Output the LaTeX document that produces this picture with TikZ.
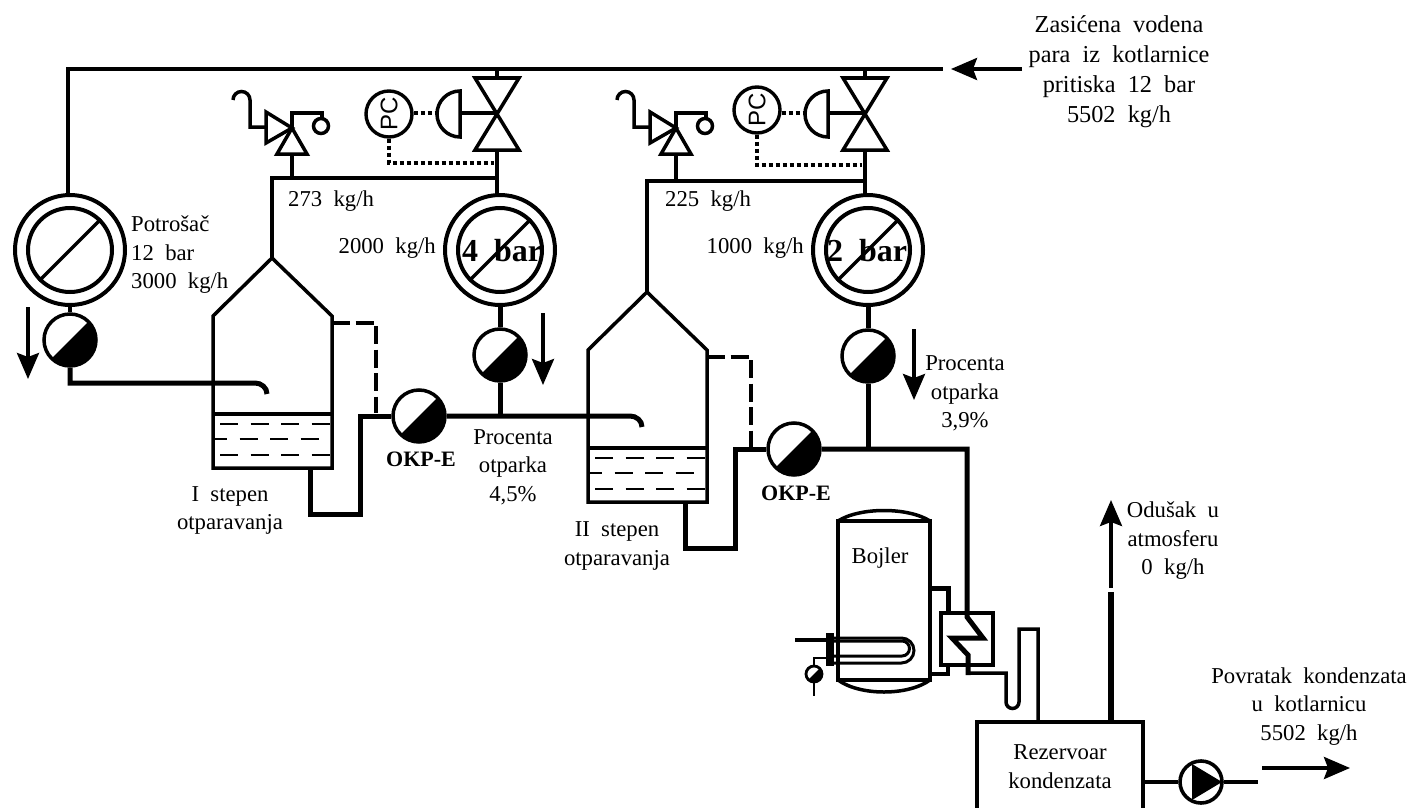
\documentclass[tikz,border=0pt]{standalone}
\usepackage{fontspec}
\setmainfont[WordSpace=2]{Liberation Serif}
\newfontfamily\pcfont{Liberation Sans}
\usetikzlibrary{arrows.meta,positioning}

\begin{document}
\begin{tikzpicture}[
    x=1pt,
    y=-1pt,
    lbl/.style={
        align=center,
        inner sep=0pt,
        font=\fontsize{22.7}{28.5}\selectfont
    },
    biglbl/.style={
        align=center,
        inner sep=0pt,
        font=\fontsize{24.3}{30}\selectfont
    },
    okplbl/.style={
        inner sep=0pt,
        font=\fontsize{22}{26}\selectfont\bfseries
    },
    barlbl/.style={
        inner sep=0pt,
        font=\fontsize{32}{36}\selectfont\bfseries
    },
    gauge/.style={
        circle,
        draw=black,
        line width=4pt,
        inner sep=0pt,
        minimum size=110pt
    },
    gaugein/.style={
        circle,
        draw=black,
        line width=4pt,
        inner sep=0pt,
        minimum size=84pt
    },
    trap/.style={
        circle,
        draw=black,
        line width=3.5pt,
        inner sep=0pt,
        minimum size=52pt,
        path picture={\fill[black] (path picture bounding box.north east)
            -- (path picture bounding box.south west)
            -- (path picture bounding box.south east) -- cycle;}
    },
    pcbox/.style={
        circle,
        draw=black,
        line width=3.4pt,
        inner sep=0pt,
        minimum size=46pt,
        rotate=90,
        font=\fontsize{24}{26}\selectfont\pcfont
    },
    pipe/.style={line width=3.5pt},
    thickpipe/.style={line width=5pt},
    mainpipe/.style={line width=4pt},
    vessel/.style={line width=3.5pt},
    liquid/.style={line width=2pt, dash pattern=on 18pt off 12.5pt},
    condline/.style={line width=4pt, dash pattern=on 18pt off 5.5pt},
    signal/.style={line width=4pt, dash pattern=on 4pt off 3pt},
    arrow/.style={-{Stealth[length=26pt,width=22pt,inset=4pt]}, line width=3.6pt}
]
\useasboundingbox (0,0) rectangle (1408,808);

% Gauges and flash traps
\node[gauge] (gauge1) at (70,250) {};
\node[gaugein] (inner1) at (70,250) {};
\node[gauge] (gauge2) at (500,250) {};
\node[gaugein] (inner2) at (500,250) {};
\node[gauge] (gauge3) at (868,250) {};
\node[gaugein] (inner3) at (868,250) {};
\foreach \i in {1,2,3} {
    \draw[pipe] (inner\i.225) -- (inner\i.45);
}
\node[barlbl, anchor=base] (bar1) at (502,261) {4 bar};
\node[barlbl, anchor=base] (bar2) at (867,261) {2 bar};

\node[trap] (trap1) at (70,340) {};
\node[trap] (trap2) at (500,355) {};
\node[trap] (trap3) at (868,356) {};
\node[trap] (okp1) at (419,416) {};
\node[trap] (okp2) at (794,449) {};
\node[okplbl, anchor=base] (okplbl1) at (421,466) {OKP-E};
\node[okplbl, anchor=base] (okplbl2) at (796,500) {OKP-E};

\draw[pipe] (gauge1.south) -- (trap1.north);
\draw[thickpipe] (gauge2.south) -- (trap2.north);
\draw[thickpipe] (gauge3.south) -- (trap3.north);

% Flash vessels: liquid, drain and equalising line
\foreach \sx/\sy [count=\i] in {0/0,375/34} {
    \begin{scope}[shift={(\sx,\sy)}]
        \draw[vessel] (272,258) -- (332,316) -- (332,468) -- (213,468) -- (213,316) -- cycle;
        \draw[vessel] (213,414) -- (332,414);
        \draw[liquid] (220,424) -- (331,424);
        \draw[liquid, dash phase=4pt] (213,439) -- (331,439);
        \draw[liquid] (220,455) -- (331,455);
        \draw[thickpipe] (310,468) -- (310,514) -- (360,514) |- (okp\i.west);
        \draw[condline] (332,323) -| (376,413);
    \end{scope}
}

% Condensate lines into vessels
\draw[thickpipe] (trap1.south) |- (255,383) to[out=0,in=90] (267,394);
\draw[thickpipe] (okp1.east) -- (630,416) to[out=0,in=90] (642,427);
\draw[thickpipe] (trap2.south) -- (trap2.south |- okp1.east);
\draw[thickpipe] (trap3.south) -- (trap3.south |- okp2.east);

% Main steam header
\coordinate (headl) at (68,69);
\coordinate (headr) at (943,69);
\draw[mainpipe] (gauge1.north -| headl) -- (headl) -- (headr);
\coordinate (steamin) at (1022,69);
\coordinate (steamout) at (951,69);
\draw[arrow] (steamin) -- (steamout);

% Pressure reducing stations
\foreach \i/\vx/\py/\pcx/\pcy/\dy/\ax in {1/497/178/389/114/163/460,2/865/181/757/110/165/828} {
    \coordinate (valve\i) at (\vx,113);
    \coordinate (tee\i) at (\vx,\py);
    \node[pcbox] (pc\i) at (\pcx,\pcy) {PC};
    \draw[pipe] (\vx-22,78) -- (\vx+22,78) -- (\vx-22,150) -- (\vx+22,150) -- cycle;
    \draw[pipe] (\vx,69) -- (\vx,78);
    \draw[pipe] (\ax,91) arc[start angle=90,end angle=270,radius=23pt] -- cycle;
    \draw[pipe] (\ax,113) -- (valve\i);
    \draw[signal] (pc\i.south |- valve\i) -- (\ax-23,113);
    \draw[signal] (pc\i.west) -- (\pcx,\dy) -- (\vx-3,\dy);
}
\draw[mainpipe] (497,150) -- (497,193);
\draw[mainpipe] (865,150) -- (865,193);

% Vapour lines from vessels
\coordinate (apex1) at (272,258);
\coordinate (apex2) at (647,292);
\draw[pipe] (apex1) |- (tee1);
\draw[pipe] (apex2) |- (tee2);

% Safety valves
\foreach \sx in {292,676} {
    \begin{scope}[shift={(\sx,0)}]
        \draw[pipe] (-26,112) -- (0,128) -- (-26,143) -- cycle;
        \draw[pipe] (0,128) -- (-15,154) -- (15,154) -- cycle;
        \draw[pipe] (-26,127) -- (-42,127) -- (-42,100) arc[start angle=0,end angle=180,radius=8.5pt];
        \draw[pipe] (0,128) -- (0,113) -- (30,113) -- (30,118);
        \draw[line width=3.5pt] (29,126) circle[radius=7.5pt];
    \end{scope}
}
\draw[mainpipe] (292,154) -- (292,178);
\draw[mainpipe] (676,154) -- (676,181);

% Boiler
\node[lbl, anchor=base] (bojler) at (880,563) {Bojler};
\draw[vessel] (838,521) rectangle (930,680);
\draw[vessel] (838,521) .. controls (860,507) and (908,507) .. (930,521);
\draw[vessel] (838,680) .. controls (860,696) and (908,696) .. (930,680);
\draw[line width=3pt] (833,638) -- (901.5,638) arc[start angle=90,end angle=-90,radius=12.5pt] -- (833,663);
\draw[line width=3pt] (833,641) -- (902,641) arc[start angle=90,end angle=-90,radius=7.5pt] -- (833,656);
\node[fill=black, inner sep=0pt, minimum width=8pt, minimum height=33pt] (flange) at (830,649.5) {};
\coordinate (heatin) at (795,640);
\draw[pipe] (heatin) -- (heatin -| flange.west);
\node[trap, line width=2.8pt, minimum size=16pt] (gauge4) at (814,674) {};
\coordinate (gaugeend) at (814,696);
\draw[line width=2.8pt] (flange.west |- 0,658) -| (gauge4.north);
\draw[line width=2.8pt] (gauge4.south) -- (gaugeend);

% Heat exchanger and condensate return
\node[draw=black, line width=4pt, inner sep=0pt, minimum size=52pt] (exch) at (967,639) {};
\draw[thickpipe] (930,588) -- (948,588) -- (exch.north -| 948,0);
\draw[line width=4pt] (930,674) -- (948,674) -- (exch.south -| 948,0);
\draw[thickpipe] (okp2.east) -- (967,449) -- (967,617) -- (983,638) -- (952,638) -- (968,655) -- (968,675);
\coordinate (tanktop) at (1038,722);
\draw[pipe] (968,673) -- (1006,673) -- (1006,702) arc[start angle=180,end angle=360,radius=6.5pt] -- (1019,629) -- (1038,629) -- (tanktop);

% Tank, pump and vent
\coordinate (tankl) at (977,808);
\coordinate (tankr) at (1143,808);
\draw[mainpipe] (tankl) |- (tankr |- tanktop) -- (tankr);
\node[lbl] (tank) at (1060,766.5) {Rezervoar\\kondenzata};
\node[circle, draw=black, line width=3.6pt, inner sep=0pt, minimum size=42pt] (pump) at (1201,782) {};
\fill[black] (1192,764) -- (1192,800) -- (1222,782) -- cycle;
\coordinate (pumpout) at (1258,782);
\draw[mainpipe] (tankr |- pump.west) -- (pump.west);
\draw[mainpipe] (pump.east) -- (pumpout);
\coordinate (backfrom) at (1262,768);
\coordinate (backto) at (1350,768);
\draw[arrow] (backfrom) -- (backto);
\coordinate (ventlow) at (1111,592);
\coordinate (venthigh) at (1111,588);
\coordinate (venttip) at (1111,500);
\draw[line width=6pt] (ventlow |- tanktop) -- (ventlow);
\draw[arrow] (venthigh) -- (venttip);

% Flow arrows
\coordinate (flowa) at (28,307);
\coordinate (flowb) at (28,379);
\coordinate (flowc) at (543,313);
\coordinate (flowd) at (543,385);
\coordinate (flowe) at (914,329);
\coordinate (flowf) at (914,400);
\draw[arrow] (flowa) -- (flowb);
\draw[arrow] (flowc) -- (flowd);
\draw[arrow] (flowe) -- (flowf);

% Labels
\node[biglbl] (steamlbl) at (1119,71.5) {Zasićena vodena\\para iz kotlarnice\\pritiska 12 bar\\5502 kg/h};
\node[lbl, align=left, anchor=west] (potlbl) at (131,255) {Potrošač\\12 bar\\3000 kg/h};
\node[lbl, anchor=base west] (lbl273) at (288,206) {273 kg/h};
\node[lbl, anchor=base west] (lbl225) at (665,206) {225 kg/h};
\node[lbl, anchor=base east] (lbl2000) at (436,253) {2000 kg/h};
\node[lbl, anchor=base east] (lbl1000) at (804,253) {1000 kg/h};
\node[lbl] (stepa) at (230,510.5) {I stepen\\otparavanja};
\node[lbl] (stepb) at (617,546) {II stepen\\otparavanja};
\node[lbl] (otpa) at (513,467) {Procenta\\otparka\\4,5\%};
\node[lbl] (otpb) at (965,393.5) {Procenta\\otparka\\3,9\%};
\node[lbl] (ventlbl) at (1173,541) {Odušak u\\atmosferu\\0 kg/h};
\node[lbl] (backlbl) at (1309,706.5) {Povratak kondenzata\\u kotlarnicu\\5502 kg/h};

\end{tikzpicture}
\end{document}
